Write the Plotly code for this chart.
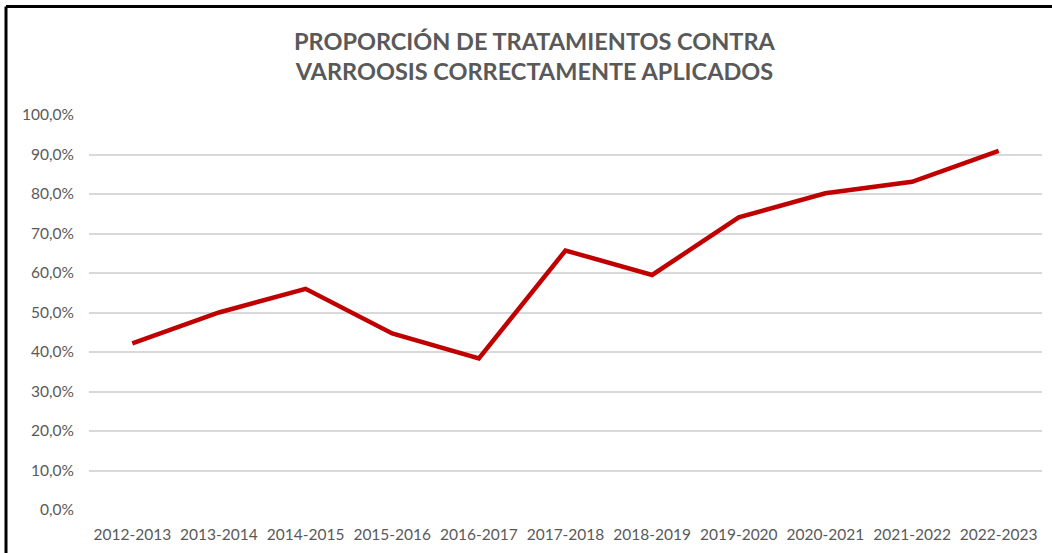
"""Line chart: proportion of correctly applied varroosis treatments."""

import plotly.graph_objects as go

CAMPAIGNS = [
    "2012-2013", "2013-2014", "2014-2015", "2015-2016", "2016-2017", "2017-2018",
    "2018-2019", "2019-2020", "2020-2021", "2021-2022", "2022-2023",
]
PROPORTION = [0.422, 0.500, 0.560, 0.447, 0.384, 0.657, 0.595, 0.741, 0.802, 0.831, 0.909]
Y_TICKS = [i / 10 for i in range(11)]
Y_TICK_LABELS = [f"{v * 100:.1f}%".replace(".", ",") for v in Y_TICKS]

WIDTH, HEIGHT = 1052, 553
MARGIN = {"l": 89, "r": 10, "t": 115, "b": 41}
TEXT_COLOR = "#595959"
FONT = "Lato, 'Open Sans', sans-serif"

plot_w = WIDTH - MARGIN["l"] - MARGIN["r"]
plot_h = HEIGHT - MARGIN["t"] - MARGIN["b"]


def px_to_paper_x(px):
    return (px - MARGIN["l"]) / plot_w


def px_to_paper_y(py):
    return (HEIGHT - MARGIN["b"] - py) / plot_h


fig = go.Figure()
fig.add_trace(
    go.Scatter(
        x=CAMPAIGNS,
        y=PROPORTION,
        mode="lines",
        line={"color": "#c00000", "width": 4.5},
        hovertemplate="%{x}: %{y:.1%}<extra></extra>",
    )
)

# Excel-like frame: only the top and left edges are visible in the crop
frame = {"color": "#000000", "width": 3}
fig.add_shape(
    type="line", xref="paper", yref="paper",
    x0=px_to_paper_x(6), x1=px_to_paper_x(WIDTH + 10),
    y0=px_to_paper_y(6), y1=px_to_paper_y(6), line=frame,
)
fig.add_shape(
    type="line", xref="paper", yref="paper",
    x0=px_to_paper_x(6), x1=px_to_paper_x(6),
    y0=px_to_paper_y(6), y1=px_to_paper_y(HEIGHT + 10), line=frame,
)

fig.update_layout(
    width=WIDTH,
    height=HEIGHT,
    margin=MARGIN,
    paper_bgcolor="white",
    plot_bgcolor="white",
    showlegend=False,
    font={"family": FONT, "color": TEXT_COLOR, "size": 15.5},
    title={
        "text": "<b>PROPORCIÓN DE TRATAMIENTOS CONTRA<br>VARROOSIS CORRECTAMENTE APLICADOS</b>",
        "x": 0.508,
        "xref": "container",
        "xanchor": "center",
        "y": 0.91,
        "yref": "container",
        "yanchor": "top",
        "font": {"family": FONT, "size": 23.5, "color": TEXT_COLOR},
    },
)
fig.update_xaxes(
    type="category",
    range=[-0.5, len(CAMPAIGNS) - 0.5],
    showgrid=False,
    showline=False,
    zeroline=False,
    ticks="",
    ticklabelstandoff=13,
    tickfont={"size": 15.5, "color": TEXT_COLOR},
)
fig.update_yaxes(
    range=[0, 1],
    tickvals=Y_TICKS,
    ticktext=Y_TICK_LABELS,
    showgrid=True,
    gridcolor="#d9d9d9",
    gridwidth=1.5,
    zeroline=False,
    showline=False,
    ticks="",
    ticklabelstandoff=14,
    tickfont={"size": 15.5, "color": TEXT_COLOR},
)

# drop the browser's default body margin so the figure sits at the window's corner
fig.write_html(
    "out.html",
    config={"displayModeBar": False},
    post_script="document.body.style.margin = '0';",
)
